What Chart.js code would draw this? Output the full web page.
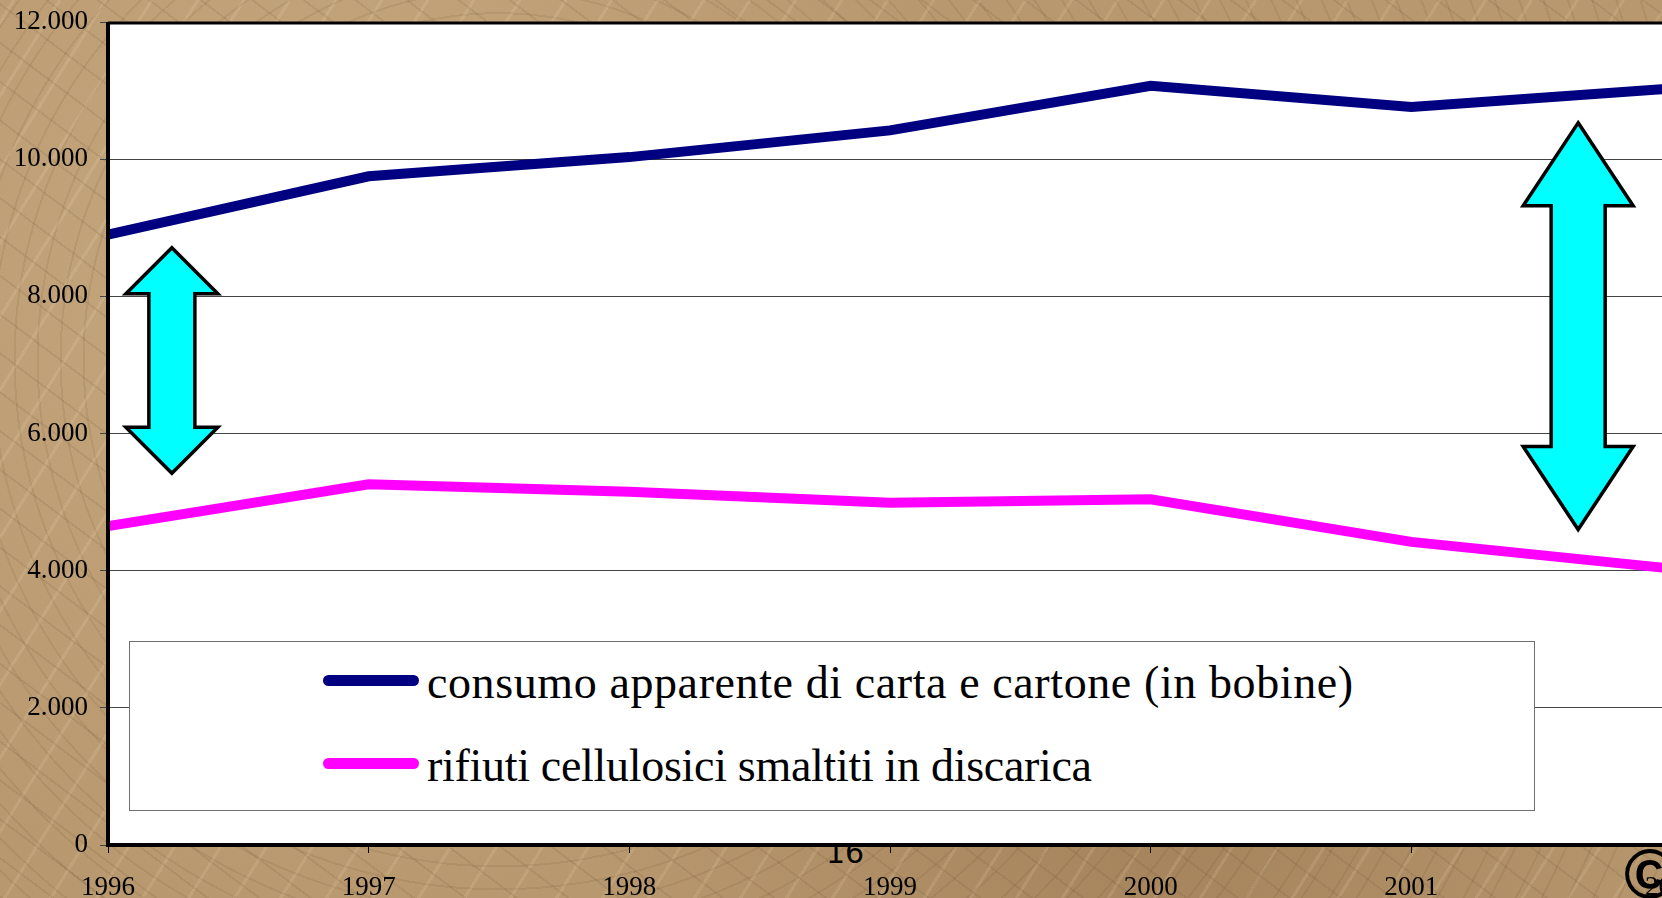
<!DOCTYPE html>
<html>
<head>
<meta charset="utf-8">
<script src="https://cdn.jsdelivr.net/npm/chart.js@4/dist/chart.umd.min.js"></script>
<style>
    body {
        margin: 0;
        width: 1662px;
        height: 898px;
        overflow: hidden;
        position: relative;
        background-color: #b8986e;
        background-image:
            repeating-linear-gradient(37deg, rgba(80, 52, 25, 0.10) 0 2px, transparent 2px 31px),
            repeating-linear-gradient(-58deg, rgba(255, 238, 205, 0.12) 0 3px, transparent 3px 39px),
            repeating-radial-gradient(circle at 30% 40%, rgba(90, 60, 30, 0.10) 0 2px, transparent 2px 23px),
            radial-gradient(circle at 20% 30%, rgba(225, 200, 160, 0.35), transparent 45%),
            radial-gradient(circle at 70% 90%, rgba(120, 85, 50, 0.3), transparent 40%);
    }
    #wrap {
        position: absolute;
        left: 0;
        top: 0;
        width: 1712px;
        height: 898px;
    }
    #pagina {
        position: absolute;
        left: 826px;
        top: 835px;
        font-family: "DejaVu Sans", sans-serif;
        font-size: 30px;
        color: #000;
    }
    #copy {
        position: absolute;
        left: 1624px;
        top: 834px;
        font-family: "Liberation Sans", sans-serif;
        font-weight: bold;
        font-size: 70px;
        color: #000;
        z-index: 3;
    }
    #legenda {
        position: absolute;
        left: 129px;
        top: 641px;
        width: 1406px;
        height: 170px;
        box-sizing: border-box;
        border: 1px solid #6f6f6f;
        background: #fff;
        z-index: 2;
    }
    .voce {
        position: absolute;
        left: 193px;
        height: 50px;
        display: flex;
        align-items: center;
        font-family: "Liberation Serif", "Times New Roman", serif;
        font-size: 46px;
        color: #000;
        white-space: nowrap;
    }
    .voce span.linea {
        display: inline-block;
        width: 96px;
        height: 11px;
        border-radius: 6px;
        margin-right: 8px;
    }
    .voce span.testo {
        position: relative;
        top: 2px;
    }
</style>
</head>
<body>
<div id="pagina">16</div>
<div id="wrap"><canvas id="grafico" width="1712" height="898"></canvas></div>
<div id="legenda"></div>
<div id="copy">©</div>

<script>
const anni = ["1996", "1997", "1998", "1999", "2000", "2001", "2002"];
const consumoCarta = [8900, 9750, 10030, 10420, 11070, 10760, 11030];
const rifiutiDiscarica = [4650, 5260, 5150, 4990, 5040, 4420, 4030];
const tickValori = [0, 2000, 4000, 6000, 8000, 10000, 12000];
const nomiSerie = [
    "consumo apparente di carta e cartone (in bobine)",
    "rifiuti cellulosici smaltiti in discarica",
];
const coloriSerie = ["#000080", "#ff00ff"];
const spaziatura = ["0.6px", "-0.3px"];

// frecce doppie (annotazioni), in coordinate dei dati
const frecce = [
    { x: 0.245, da: 5420, a: 8710, testa: 46, semiTesta: 46, semiAsta: 23 },
    { x: 5.64, da: 4600, a: 10530, testa: 83, semiTesta: 55, semiAsta: 27 },
];

function formatoMigliaia(v) {
    return String(v).replace(/\B(?=(\d{3})+(?!\d))/g, ".");
}

const sfondoBianco = {
    id: "sfondoBianco",
    beforeDraw(chart) {
        const { ctx, chartArea } = chart;
        ctx.save();
        ctx.fillStyle = "#fff";
        ctx.fillRect(chartArea.left, chartArea.top, chartArea.right - chartArea.left, chartArea.bottom - chartArea.top);
        ctx.restore();
    },
    afterDatasetsDraw(chart) {
        const { ctx, scales } = chart;
        for (let f of frecce) {
            let cx = scales.x.getPixelForValue(f.x);
            let top = scales.y.getPixelForValue(f.a);
            let bot = scales.y.getPixelForValue(f.da);
            ctx.save();
            ctx.beginPath();
            ctx.moveTo(cx, top);
            ctx.lineTo(cx + f.semiTesta, top + f.testa);
            ctx.lineTo(cx + f.semiAsta, top + f.testa);
            ctx.lineTo(cx + f.semiAsta, bot - f.testa);
            ctx.lineTo(cx + f.semiTesta, bot - f.testa);
            ctx.lineTo(cx, bot);
            ctx.lineTo(cx - f.semiTesta, bot - f.testa);
            ctx.lineTo(cx - f.semiAsta, bot - f.testa);
            ctx.lineTo(cx - f.semiAsta, top + f.testa);
            ctx.lineTo(cx - f.semiTesta, top + f.testa);
            ctx.closePath();
            ctx.fillStyle = "#00ffff";
            ctx.fill();
            ctx.lineWidth = 3.5;
            ctx.lineJoin = "miter";
            ctx.strokeStyle = "#000";
            ctx.stroke();
            ctx.restore();
        }
    },
    afterDraw(chart) {
        const { ctx, chartArea } = chart;
        ctx.save();
        ctx.strokeStyle = "#000";
        ctx.lineWidth = 3;
        ctx.beginPath();
        ctx.moveTo(chartArea.left, chartArea.top + 1);
        ctx.lineTo(chartArea.right + 5, chartArea.top + 1);
        ctx.stroke();
        ctx.lineWidth = 4;
        ctx.beginPath();
        ctx.moveTo(chartArea.left, chartArea.top);
        ctx.lineTo(chartArea.left, chartArea.bottom);
        ctx.lineTo(chartArea.right + 5, chartArea.bottom);
        ctx.stroke();
        ctx.restore();
    },
};

document.addEventListener("DOMContentLoaded", function () {
    const legenda = document.getElementById("legenda");
    for (let i = 0; i < nomiSerie.length; i++) {
        let voce = document.createElement("div");
        voce.classList.add("voce");
        voce.style.top = (i === 0 ? 13 : 96) + "px";
        let linea = document.createElement("span");
        linea.classList.add("linea");
        linea.style.background = coloriSerie[i];
        let testo = document.createElement("span");
        testo.classList.add("testo");
        testo.style.letterSpacing = spaziatura[i];
        testo.innerText = nomiSerie[i];
        voce.appendChild(linea);
        voce.appendChild(testo);
        legenda.appendChild(voce);
    }

    const canvas = document.getElementById("grafico");
    new Chart(canvas, {
        type: "line",
        data: {
            labels: anni,
            datasets: [
                {
                    label: nomiSerie[0],
                    data: consumoCarta,
                    borderColor: coloriSerie[0],
                    borderWidth: 10,
                    pointRadius: 0,
                    tension: 0,
                    fill: false,
                },
                {
                    label: nomiSerie[1],
                    data: rifiutiDiscarica,
                    borderColor: coloriSerie[1],
                    borderWidth: 10,
                    pointRadius: 0,
                    tension: 0,
                    fill: false,
                },
            ],
        },
        options: {
            responsive: false,
            animation: false,
            layout: { padding: { top: 22, right: 40, left: 0, bottom: 0 } },
            plugins: {
                legend: { display: false },
                tooltip: { enabled: false },
            },
            scales: {
                x: {
                    offset: false,
                    afterFit: function (scale) {
                        scale.height = 53;
                        scale.paddingLeft = 0;
                        scale.paddingRight = 0;
                    },
                    grid: { drawOnChartArea: false, tickLength: 8, color: "#000" },
                    border: { display: false },
                    ticks: {
                        autoSkip: false,
                        maxRotation: 0,
                        padding: 19,
                        color: "#000",
                        font: { family: "'Liberation Serif', serif", size: 27 },
                    },
                },
                y: {
                    min: 0,
                    max: 12000,
                    afterFit: function (scale) {
                        scale.width = 108;
                        scale.paddingTop = 0;
                        scale.paddingBottom = 0;
                    },
                    afterBuildTicks: function (scale) {
                        scale.ticks = tickValori.map((v) => ({ value: v }));
                    },
                    grid: { color: "#444", lineWidth: 1, tickLength: 8 },
                    border: { display: false },
                    ticks: {
                        padding: 12,
                        color: "#000",
                        font: { family: "'Liberation Serif', serif", size: 27 },
                        callback: function (value) { return formatoMigliaia(value); },
                    },
                },
            },
        },
        plugins: [sfondoBianco],
    });
});
</script>
</body>
</html>
